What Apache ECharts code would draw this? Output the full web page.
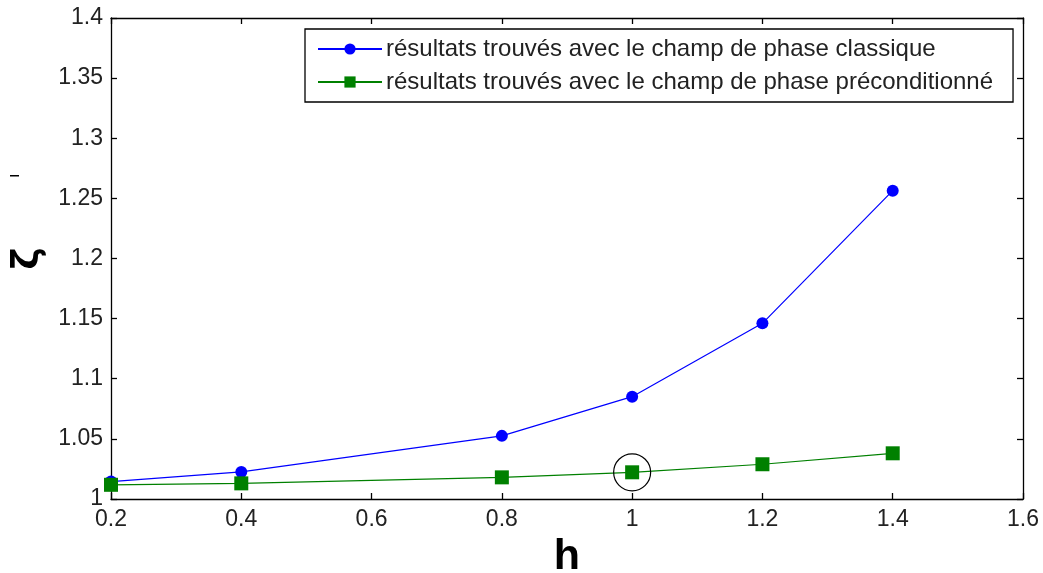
<!DOCTYPE html>
<html>
<head>
<meta charset="utf-8">
<script src="https://cdn.jsdelivr.net/npm/echarts@6/dist/echarts.min.js"></script>
<style>
html,body{margin:0;padding:0;background:#fff;}
#chart{width:1043px;height:573px;}
</style>
</head>
<body>
<div id="chart"></div>
<script>
const hValues = [0.2, 0.4, 0.8, 1.0, 1.2, 1.4];
const classique = [1.0145, 1.0225, 1.0525, 1.0851, 1.1461, 1.2564];
const precond = [1.0118, 1.0130, 1.0180, 1.0222, 1.0289, 1.0380];
const seriesNames = [
  'résultats trouvés avec le champ de phase classique',
  'résultats trouvés avec le champ de phase préconditionné'
];
const highlightPoint = [1.0, 1.0222];
const xLabel = 'h';
const yLabel = 'ζ';

const chart = echarts.init(document.getElementById('chart'), null, {renderer: 'canvas'});
const fmt = v => String(parseFloat(v.toFixed(3)));
const tickFont = {color: '#222', fontFamily: 'Liberation Sans, Arial, sans-serif', fontSize: 23};
const baseAxisLine = {show: true, lineStyle: {color: '#000', width: 1.3}};
const innerTick = {show: true, inside: true, length: 6, lineStyle: {color: '#000', width: 1.3}};

chart.setOption({
  animation: false,
  backgroundColor: '#fff',
  grid: {left: 111, right: 20, top: 18, bottom: 74, containLabel: false, outerBoundsMode: 'none'},
  xAxis: [{
    type: 'value', min: 0.2, max: 1.6, interval: 0.2, position: 'bottom',
    axisLine: baseAxisLine, axisTick: innerTick,
    axisLabel: Object.assign({formatter: fmt, margin: 9}, tickFont),
    splitLine: {show: false},
    name: xLabel, nameLocation: 'middle', nameGap: 34,
    nameTextStyle: {fontFamily: 'Liberation Sans, Arial, sans-serif', fontSize: 43, fontWeight: 'bold', color: '#000'}
  }, {
    type: 'value', min: 0.2, max: 1.6, interval: 0.2, position: 'top',
    axisLine: baseAxisLine, axisTick: innerTick, axisLabel: {show: false}, splitLine: {show: false}
  }],
  yAxis: [{
    type: 'value', min: 1, max: 1.4, interval: 0.05, position: 'left',
    axisLine: baseAxisLine, axisTick: innerTick,
    axisLabel: Object.assign({formatter: fmt, margin: 8}, tickFont),
    splitLine: {show: false},
    name: yLabel, nameLocation: 'middle', nameGap: 63, nameRotate: 90,
    nameTextStyle: {fontFamily: 'DejaVu Sans, sans-serif', fontSize: 38, fontWeight: 'bold', color: '#000'}
  }, {
    type: 'value', min: 1, max: 1.4, interval: 0.05, position: 'right',
    axisLine: baseAxisLine, axisTick: innerTick, axisLabel: {show: false}, splitLine: {show: false}
  }],
  legend: {
    orient: 'vertical', left: 305, top: 29,
    backgroundColor: '#fff', borderColor: '#000', borderWidth: 1.3,
    padding: [8, 20, 8, 12], itemGap: 9, itemWidth: 64, itemHeight: 14,
    textStyle: {fontFamily: 'Liberation Sans, Arial, sans-serif', fontSize: 24, color: '#222', padding: [0, 0, 0, -1]},
    data: [seriesNames[0], seriesNames[1]]
  },
  series: [{
    name: seriesNames[0], type: 'line',
    data: hValues.map((h, i) => [h, classique[i]]),
    symbol: 'circle', symbolSize: 12,
    lineStyle: {color: '#0000ff', width: 1.2},
    itemStyle: {color: '#0000ff'},
    z: 3
  }, {
    name: seriesNames[1], type: 'line',
    data: hValues.map((h, i) => [h, precond[i]]),
    symbol: 'rect', symbolSize: 14,
    lineStyle: {color: '#008000', width: 1.2},
    itemStyle: {color: '#008000'},
    z: 4,
    markPoint: {
      symbol: 'circle', symbolSize: 37, silent: true,
      itemStyle: {color: 'rgba(0,0,0,0)', borderColor: '#000', borderWidth: 1.2},
      label: {show: false},
      data: [{coord: highlightPoint}]
    }
  }],
  graphic: [{
    type: 'rect', left: 10, top: 175,
    shape: {width: 9, height: 1.5},
    style: {fill: '#000'}
  }]
});
</script>
</body>
</html>
